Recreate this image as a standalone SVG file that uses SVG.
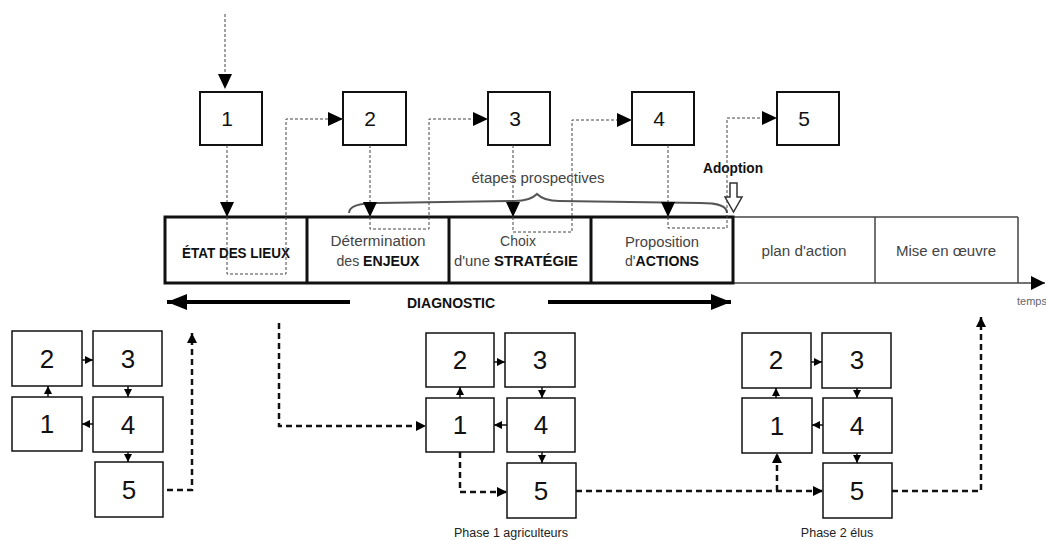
<svg xmlns="http://www.w3.org/2000/svg" width="1046" height="540" viewBox="0 0 1046 540">
<style>
.bx{fill:#fff;stroke:#111;stroke-width:1.5}
.tb{fill:#fff;stroke:#111;stroke-width:2}
.num{font-family:"Liberation Sans",Arial,sans-serif;font-size:26px;fill:#111;text-anchor:middle}
.tnum{font-family:"Liberation Sans",Arial,sans-serif;font-size:21px;fill:#111;text-anchor:middle}
.dot{fill:none;stroke:#444;stroke-width:1;stroke-dasharray:3 2}
.sm{fill:none;stroke:#111;stroke-width:1.5}
.dsh{fill:none;stroke:#111;stroke-width:2.5;stroke-dasharray:6 4}
.lbl{font-family:"Liberation Sans",Arial,sans-serif;font-size:14px;fill:#444;text-anchor:middle}
.b{font-weight:bold;fill:#111}
.cap{font-family:"Liberation Sans",Arial,sans-serif;font-size:12.5px;fill:#222;text-anchor:middle}
</style>
<defs>
<marker id="big" markerUnits="userSpaceOnUse" markerWidth="15" markerHeight="14" refX="15" refY="7" orient="auto"><path d="M0,0 L15,7 L0,14 Z" fill="#000"/></marker>
<marker id="sa" markerUnits="userSpaceOnUse" markerWidth="8" markerHeight="8" refX="8" refY="4" orient="auto"><path d="M0,0 L8,4 L0,8 Z" fill="#000"/></marker>
<marker id="da" markerUnits="userSpaceOnUse" markerWidth="10" markerHeight="10" refX="10" refY="5" orient="auto"><path d="M0,0 L10,5 L0,10 Z" fill="#000"/></marker>
<marker id="dg" markerUnits="userSpaceOnUse" markerWidth="20" markerHeight="16" refX="20" refY="8" orient="auto"><path d="M0,0 L20,8 L0,16 Z" fill="#000"/></marker>
<marker id="tl" markerUnits="userSpaceOnUse" markerWidth="14" markerHeight="14" refX="14" refY="7" orient="auto"><path d="M0,0 L14,7 L0,14 Z" fill="#000"/></marker>
</defs>

<g id="timeline">
<path d="M733,217 L1018,217 M733,283 L1018,283 M875,217 L875,283 M1018,217 L1018,283" fill="none" stroke="#444" stroke-width="1.5"/>
<path d="M1018,283 L1045,283" fill="none" stroke="#444" stroke-width="1.5" marker-end="url(#tl)"/>
<rect x="165" y="217" width="568" height="66" fill="none" stroke="#111" stroke-width="3"/>
<path d="M307,217 L307,283 M449,217 L449,283 M591,217 L591,283" stroke="#111" stroke-width="3"/>
<text class="lbl b" x="236" y="258" textLength="108" lengthAdjust="spacingAndGlyphs">ÉTAT DES LIEUX</text>
<text class="lbl" x="378" y="246" textLength="95" lengthAdjust="spacingAndGlyphs">Détermination</text>
<text class="lbl" x="378" y="266" textLength="83" lengthAdjust="spacingAndGlyphs">des <tspan class="b">ENJEUX</tspan></text>
<text class="lbl" x="518" y="246">Choix</text>
<text class="lbl" x="516" y="266" textLength="124" lengthAdjust="spacingAndGlyphs">d'une <tspan class="b">STRATÉGIE</tspan></text>
<text class="lbl" x="662" y="247" textLength="74" lengthAdjust="spacingAndGlyphs">Proposition</text>
<text class="lbl" x="662" y="266" textLength="74" lengthAdjust="spacingAndGlyphs">d'<tspan class="b">ACTIONS</tspan></text>
<text class="lbl" x="804" y="256" textLength="85" lengthAdjust="spacingAndGlyphs">plan d'action</text>
<text class="lbl" x="946" y="256" textLength="100" lengthAdjust="spacingAndGlyphs">Mise en œuvre</text>
<text x="1017" y="305" font-family="Liberation Sans,Arial,sans-serif" font-size="11" fill="#666">temps</text>
<path d="M350,302 L167,302" stroke="#000" stroke-width="4" marker-end="url(#dg)"/>
<path d="M548,302 L731,302" stroke="#000" stroke-width="4" marker-end="url(#dg)"/>
<text class="lbl b" x="451" y="308" textLength="88" lengthAdjust="spacingAndGlyphs">DIAGNOSTIC</text>
<path d="M349,213 C349,206 358,203 378,203 L515,201 C527,201 533,198 537,194 C541,198 547,201 559,201 L700,203 C719,203 727,206 727,213" fill="none" stroke="#555" stroke-width="2"/>
<text class="lbl" x="538" y="183" font-size="12" textLength="133" lengthAdjust="spacingAndGlyphs" fill="#555">étapes prospectives</text>
<text class="lbl b" x="733" y="173" font-size="12" textLength="60" lengthAdjust="spacingAndGlyphs">Adoption</text>
<polygon points="730,183 737,183 737,197 742,197 733.5,212 725,197 730,197" fill="#fff" stroke="#333" stroke-width="1.5"/>
</g>

<g id="top-1"><rect class="tb" x="200" y="92" width="62" height="53"/><text class="tnum" x="227" y="126">1</text></g>
<g id="top-2"><rect class="tb" x="343" y="92" width="63" height="53"/><text class="tnum" x="370" y="126">2</text></g>
<g id="top-3"><rect class="tb" x="488" y="92" width="62" height="53"/><text class="tnum" x="515" y="126">3</text></g>
<g id="top-4"><rect class="tb" x="632" y="92" width="62" height="53"/><text class="tnum" x="659" y="126">4</text></g>
<g id="top-5"><rect class="tb" x="777" y="92" width="62" height="53"/><text class="tnum" x="804" y="126">5</text></g>

<g id="left-2"><rect class="bx" x="12" y="331" width="70" height="55"/><text class="num" x="47" y="368">2</text></g>
<g id="left-3"><rect class="bx" x="93" y="331" width="69" height="55"/><text class="num" x="128" y="368">3</text></g>
<g id="left-1"><rect class="bx" x="12" y="397" width="70" height="54"/><text class="num" x="47" y="433">1</text></g>
<g id="left-4"><rect class="bx" x="93" y="397" width="70" height="55"/><text class="num" x="128" y="434">4</text></g>
<g id="left-5"><rect class="bx" x="95" y="462" width="68" height="55"/><text class="num" x="129" y="499">5</text></g>

<g id="p1-2"><rect class="bx" x="426" y="333" width="68" height="54"/><text class="num" x="460" y="369">2</text></g>
<g id="p1-3"><rect class="bx" x="505" y="333" width="70" height="54"/><text class="num" x="540" y="369">3</text></g>
<g id="p1-1"><rect class="bx" x="426" y="398" width="68" height="54"/><text class="num" x="460" y="434">1</text></g>
<g id="p1-4"><rect class="bx" x="507" y="398" width="68" height="54"/><text class="num" x="541" y="434">4</text></g>
<g id="p1-5"><rect class="bx" x="507" y="463" width="69" height="55"/><text class="num" x="541" y="500">5</text></g>
<text class="cap" x="511" y="537">Phase 1 agriculteurs</text>

<g id="p2-2"><rect class="bx" x="742" y="333" width="69" height="55"/><text class="num" x="776" y="369">2</text></g>
<g id="p2-3"><rect class="bx" x="822" y="333" width="69" height="55"/><text class="num" x="857" y="369">3</text></g>
<g id="p2-1"><rect class="bx" x="742" y="398" width="70" height="55"/><text class="num" x="777" y="435">1</text></g>
<g id="p2-4"><rect class="bx" x="823" y="398" width="69" height="55"/><text class="num" x="857" y="435">4</text></g>
<g id="p2-5"><rect class="bx" x="823" y="463" width="69" height="55"/><text class="num" x="857" y="500">5</text></g>
<text class="cap" x="837" y="537">Phase 2 élus</text>

<g id="connectors">
<path class="dot" d="M225,14 L225,89" marker-end="url(#big)"/>
<path class="dot" d="M227,145 L227,217" marker-end="url(#big)"/>
<path class="dot" d="M227,217 L227,274 L286,274 L286,119 L343,119" marker-end="url(#big)"/>
<path class="dot" d="M370,145 L370,217" marker-end="url(#big)"/>
<path class="dot" d="M370,217 L370,229 L429,229 L429,119 L488,119" marker-end="url(#big)"/>
<path class="dot" d="M513,145 L513,217" marker-end="url(#big)"/>
<path class="dot" d="M513,217 L513,232 L572,232 L572,120 L632,120" marker-end="url(#big)"/>
<path class="dot" d="M668,145 L668,217" marker-end="url(#big)"/>
<path class="dot" d="M668,217 L668,228 L727,228 L727,118 L777,118" marker-end="url(#big)"/>

<path class="sm" d="M82,360 L93,360" marker-end="url(#sa)"/>
<path class="sm" d="M128,386 L128,397" marker-end="url(#sa)"/>
<path class="sm" d="M93,424 L82,424" marker-end="url(#sa)"/>
<path class="sm" d="M48,397 L48,386" marker-end="url(#sa)"/>
<path class="sm" d="M128,452 L128,462" marker-end="url(#sa)"/>

<path class="sm" d="M494,362 L505,362" marker-end="url(#sa)"/>
<path class="sm" d="M542,387 L542,398" marker-end="url(#sa)"/>
<path class="sm" d="M507,425 L494,425" marker-end="url(#sa)"/>
<path class="sm" d="M460,398 L460,387" marker-end="url(#sa)"/>
<path class="sm" d="M542,452 L542,463" marker-end="url(#sa)"/>

<path class="sm" d="M811,362 L822,362" marker-end="url(#sa)"/>
<path class="sm" d="M857,388 L857,398" marker-end="url(#sa)"/>
<path class="sm" d="M823,425 L812,425" marker-end="url(#sa)"/>
<path class="sm" d="M776,398 L776,388" marker-end="url(#sa)"/>
<path class="sm" d="M857,453 L857,463" marker-end="url(#sa)"/>

<path class="dsh" d="M167,490 L192,490 L192,333" marker-end="url(#da)"/>
<path class="dsh" d="M279,323 L279,426 L426,426" marker-end="url(#da)"/>
<path class="dsh" d="M460,452 L460,492 L507,492" marker-end="url(#da)"/>
<path class="dsh" d="M576,491 L823,491" marker-end="url(#da)"/>
<path class="dsh" d="M777,491 L777,453" marker-end="url(#da)"/>
<path class="dsh" d="M892,491 L981,491 L981,317" marker-end="url(#da)"/>
</g>
</svg>
